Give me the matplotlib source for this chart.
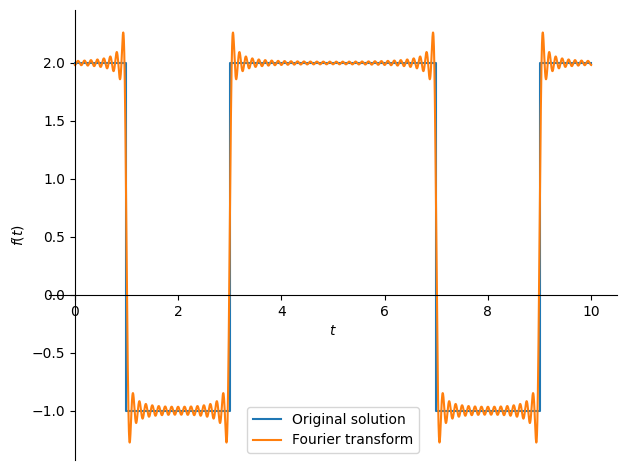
import numpy as np
import matplotlib
matplotlib.use("Agg")
import matplotlib.pyplot as plt

# piecewise constant signal: edges of each piece and its level
edges = [0, 1, 3, 7, 9, 10]
levels = [2, -1, 2, -1, 2]
period = 6.0
n_terms = 48  # harmonics kept in the partial sum

# step line (vertical jumps included)
ts = np.repeat(edges, 2)[1:-1]
fs = np.repeat(levels, 2)

# partial Fourier sum of the same signal, coefficients from one period [0, 6)
per_edges = [0, 1, 3, 6]
per_levels = [2, -1, 2]
t = np.linspace(0, 10, 4000)
w = 2 * np.pi / period
a0 = sum(l * (b - a) for l, a, b in zip(per_levels, per_edges[:-1], per_edges[1:])) / period
fourier = np.full_like(t, a0)
for n in range(1, n_terms + 1):
    an = sum(l * (np.sin(n*w*b) - np.sin(n*w*a)) for l, a, b in zip(per_levels, per_edges[:-1], per_edges[1:])) * 2 / (period * n * w)
    bn = sum(l * (np.cos(n*w*a) - np.cos(n*w*b)) for l, a, b in zip(per_levels, per_edges[:-1], per_edges[1:])) * 2 / (period * n * w)
    fourier += an * np.cos(n*w*t) + bn * np.sin(n*w*t)

fig = plt.figure(figsize=(6.26, 4.7), dpi=100)
ax = fig.add_axes([49/626, 10/470, 568/626, 450/470])
ax.plot(ts, fs, label="Original solution")
ax.plot(t, fourier, label="Fourier transform")

ax.spines['left'].set_position('zero')
ax.spines['bottom'].set_position('zero')
ax.spines['right'].set_visible(False)
ax.spines['top'].set_visible(False)
ax.xaxis.set_ticks_position('bottom')
ax.yaxis.set_ticks_position('left')
ax.set_xlim(-0.5, 10.5)
ax.set_ylim(-1.425, 2.457)
ax.set_xlabel('$t$')
ax.set_ylabel('$f(t)$')
ax.legend(loc='lower center')

fig.savefig("out.png", dpi=100)
